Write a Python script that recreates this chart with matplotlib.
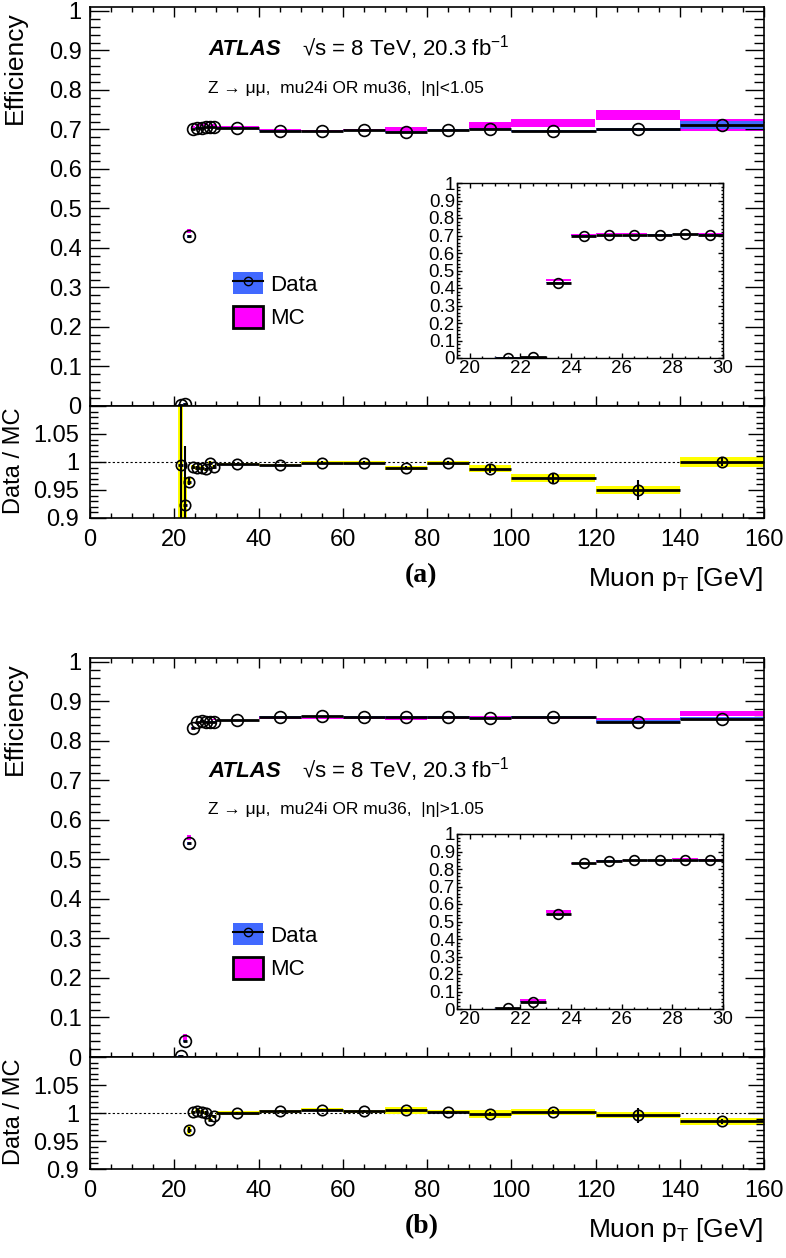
import matplotlib
matplotlib.use('Agg')
import matplotlib.pyplot as plt
import numpy as np
from matplotlib.ticker import MultipleLocator, FuncFormatter
from matplotlib.patches import Patch
from matplotlib.lines import Line2D

plt.rcParams['font.family'] = ['Liberation Sans', 'DejaVu Sans']
plt.rcParams['mathtext.fontset'] = 'custom'
plt.rcParams['mathtext.rm'] = 'Liberation Sans'
plt.rcParams['mathtext.it'] = 'Liberation Sans:italic'
plt.rcParams['mathtext.bf'] = 'Liberation Sans:bold'

W, H = 786, 1258
BLUE = '#4169ff'
MAGENTA = '#ff00ff'
YELLOW = '#ffff00'

# muon pT bin edges [GeV]
edges = np.array([21, 22, 23, 24, 25, 26, 27, 28, 29, 30, 40, 50, 60, 70, 80, 90, 100, 120, 140, 160])

# (a) |eta| < 1.05
eff_data_a = [0.002, 0.005, 0.430, 0.700, 0.703, 0.703, 0.705, 0.707, 0.705, 0.704, 0.697, 0.696, 0.698, 0.694, 0.698, 0.702, 0.696, 0.700, 0.712]
err_data_a = [0.002, 0.002, 0.004, 0.002, 0.002, 0.002, 0.002, 0.002, 0.002, 0.001, 0.001, 0.001, 0.001, 0.002, 0.002, 0.002, 0.003, 0.004, 0.010]
eff_mc_a = [0.002, 0.0054, 0.444, 0.706, 0.711, 0.711, 0.714, 0.7085, 0.711, 0.707, 0.700, 0.697, 0.699, 0.701, 0.699, 0.711, 0.717, 0.737, 0.712]
err_mc_a = [0.002, 0.002, 0.005, 0.002, 0.002, 0.002, 0.002, 0.002, 0.002, 0.002, 0.002, 0.002, 0.002, 0.004, 0.003, 0.007, 0.0095, 0.012, 0.015]
ratio_a = [0.994, 0.923, 0.965, 0.991, 0.989, 0.989, 0.987, 0.998, 0.991, 0.996, 0.995, 0.999, 0.999, 0.990, 0.998, 0.988, 0.971, 0.950, 1.000]
ratio_stat_a = [0.3, 0.105, 0.006, 0.003, 0.003, 0.003, 0.003, 0.003, 0.003, 0.002, 0.002, 0.002, 0.002, 0.003, 0.003, 0.007, 0.010, 0.017, 0.008]
ratio_sys_a = [0.3, 0.05, 0.006, 0.003, 0.003, 0.003, 0.003, 0.003, 0.003, 0.002, 0.002, 0.002, 0.002, 0.0035, 0.004, 0.006, 0.0076, 0.0067, 0.0082]

# (b) |eta| > 1.05
eff_data_b = [0.003, 0.041, 0.541, 0.834, 0.847, 0.851, 0.849, 0.849, 0.849, 0.852, 0.861, 0.862, 0.861, 0.860, 0.860, 0.858, 0.860, 0.849, 0.856]
err_data_b = [0.002, 0.003, 0.004, 0.002, 0.002, 0.002, 0.002, 0.002, 0.002, 0.001, 0.001, 0.001, 0.001, 0.002, 0.002, 0.002, 0.002, 0.003, 0.004]
eff_mc_b = [0.002, 0.050, 0.556, 0.833, 0.844, 0.849, 0.849, 0.859, 0.854, 0.852, 0.858, 0.857, 0.858, 0.856, 0.858, 0.860, 0.858, 0.853, 0.869]
err_mc_b = [0.002, 0.008, 0.007, 0.002, 0.002, 0.002, 0.002, 0.002, 0.002, 0.002, 0.002, 0.002, 0.003, 0.004, 0.002, 0.004, 0.003, 0.006, 0.007]
ratio_b = [np.nan, np.nan, 0.970, 1.001, 1.004, 1.002, 1.000, 0.988, 0.994, 1.000, 1.003, 1.006, 1.003, 1.005, 1.002, 0.998, 1.002, 0.996, 0.985]
ratio_stat_b = [np.nan, np.nan, 0.005, 0.003, 0.003, 0.003, 0.003, 0.003, 0.003, 0.002, 0.002, 0.002, 0.002, 0.003, 0.002, 0.004, 0.004, 0.0135, 0.004]
ratio_sys_b = [np.nan, np.nan, 0.008, 0.003, 0.003, 0.003, 0.003, 0.003, 0.003, 0.003, 0.003, 0.003, 0.003, 0.006, 0.0025, 0.0075, 0.005, 0.005, 0.006]

left = edges[:-1]
width = np.diff(edges)
cen = left + width / 2.0


def box(x0, y0, x1, y1):
    # pixel box (top-left origin) -> figure fraction rect
    return [x0 / W, 1 - y1 / H, (x1 - x0) / W, (y1 - y0) / H]


def fmt(v, pos):
    return '%g' % round(v, 3)


def draw_eff(ax, data, derr, mc, merr, ms):
    data, derr, mc, merr = map(np.asarray, (data, derr, mc, merr))
    ax.bar(left, 2 * merr, width, bottom=mc - merr, align='edge', color=MAGENTA, lw=0, zorder=1)
    ax.bar(left, 2 * derr, width, bottom=data - derr, align='edge', color=BLUE, lw=0, zorder=2)
    ax.hlines(data, left, left + width, color='k', lw=2, zorder=3)
    ax.plot(cen, data, 'o', ms=ms, mfc='none', mec='k', mew=1.2, zorder=4)


def draw_ratio(ax, r, rstat, rsys):
    r, rstat, rsys = map(np.asarray, (r, rstat, rsys))
    ok = ~np.isnan(r)
    ax.axhline(1, color='k', lw=0.8, ls=(0, (2, 2)), zorder=0.5)
    ax.bar(left[ok], 2 * rsys[ok], width[ok], bottom=r[ok] - rsys[ok], align='edge', color=YELLOW, lw=0, zorder=1)
    ax.hlines(r[ok], left[ok], left[ok] + width[ok], color='k', lw=2, zorder=2)
    ax.vlines(cen[ok], r[ok] - rstat[ok], r[ok] + rstat[ok], color='k', lw=1.5, zorder=2)
    ax.plot(cen[ok], r[ok], 'o', ms=7.5, mfc='none', mec='k', mew=1.2, zorder=3)


def style(ax, ylen, xlen, lw=1.2, size=17, pad=6):
    ax.tick_params(which='both', direction='in', top=True, right=True, width=1, labelsize=size, pad=pad)
    ax.yaxis.set_tick_params(which='major', length=ylen)
    ax.yaxis.set_tick_params(which='minor', length=ylen / 2)
    ax.xaxis.set_tick_params(which='major', length=xlen)
    ax.xaxis.set_tick_params(which='minor', length=xlen / 2)
    for s in ax.spines.values():
        s.set_linewidth(lw)


fig = plt.figure(figsize=(W / 100, H / 100), dpi=100)

panels = [
    ('a', 0, eff_data_a, err_data_a, eff_mc_a, err_mc_a, ratio_a, ratio_stat_a, ratio_sys_a,
     55, 93, 'Z → μμ,  mu24i OR mu36,  |η|<1.05'),
    ('b', 651, eff_data_b, err_data_b, eff_mc_b, err_mc_b, ratio_b, ratio_stat_b, ratio_sys_b,
     777, 814, 'Z → μμ,  mu24i OR mu36,  |η|>1.05'),
]

for tag, off, dd, de, mm, me, rr, rs, ry, y_atlas, y_z, zlabel in panels:
    ax = fig.add_axes(box(90, 7 + off, 764, 406 + off))
    rax = fig.add_axes(box(90, 406 + off, 764, 518 + off))

    draw_eff(ax, dd, de, mm, me, ms=8.5)
    ax.set_xlim(0, 160)
    ax.set_ylim(0, 1.01)
    ax.xaxis.set_major_locator(MultipleLocator(20))
    ax.xaxis.set_minor_locator(MultipleLocator(5))
    ax.yaxis.set_major_locator(MultipleLocator(0.1))
    ax.yaxis.set_minor_locator(MultipleLocator(0.02))
    ax.yaxis.set_major_formatter(FuncFormatter(fmt))
    style(ax, 14, 7.2)
    ax.tick_params(labelbottom=False)

    draw_ratio(rax, rr, rs, ry)
    rax.set_xlim(0, 160)
    rax.set_ylim(0.9, 1.1)
    rax.xaxis.set_major_locator(MultipleLocator(20))
    rax.xaxis.set_minor_locator(MultipleLocator(5))
    rax.yaxis.set_major_locator(MultipleLocator(0.05))
    rax.yaxis.set_minor_locator(MultipleLocator(0.01))
    rax.yaxis.set_major_formatter(FuncFormatter(lambda v, p: '' if v > 1.06 else fmt(v, p)))
    style(rax, 11.5, 7.2, pad=8)
    rax.tick_params(which='both', top=False)

    # inset zoom on the turn-on
    iax = fig.add_axes(box(457, 183 + off, 723, 358 + off))
    draw_eff(iax, dd, de, mm, me, ms=7)
    iax.set_xlim(19.5, 30)
    iax.set_ylim(0, 1)
    iax.xaxis.set_major_locator(MultipleLocator(2))
    iax.xaxis.set_minor_locator(MultipleLocator(0.5))
    iax.yaxis.set_major_locator(MultipleLocator(0.1))
    iax.yaxis.set_minor_locator(MultipleLocator(0.02))
    iax.yaxis.set_major_formatter(FuncFormatter(fmt))
    style(iax, 3.6, 3.6, lw=1.0, size=13.5, pad=1.5)

    # legend
    h_data = (Patch(facecolor=BLUE, edgecolor='none'),
              Line2D([], [], color='k', lw=1.5, marker='o', ms=6, mfc='none', mec='k'))
    h_mc = Patch(facecolor=MAGENTA, edgecolor='k', lw=2)
    ax.legend([h_data, h_mc], ['Data', 'MC'], loc='upper left',
              bbox_to_anchor=(233 / W, 1 - (272 + off) / H), bbox_transform=fig.transFigure,
              frameon=False, fontsize=16, handlelength=1.35, handleheight=1.15,
              handletextpad=0.3, labelspacing=0.45, borderpad=0, borderaxespad=0)

    # labels
    fig.text(208 / W, 1 - y_atlas / H, 'ATLAS', fontsize=16, fontweight='bold', fontstyle='italic', va='baseline')
    fig.text(302 / W, 1 - y_atlas / H, '√s = 8 TeV, 20.3 fb$^{-1}$', fontsize=16, va='baseline')
    fig.text(208 / W, 1 - y_z / H, zlabel, fontsize=12.5, va='baseline')

    fig.text(15 / W, 1 - (11 + off) / H, 'Efficiency', fontsize=19, rotation=90, ha='center', va='top')
    fig.text(14 / W, 1 - (461 + off) / H, 'Data / MC', fontsize=17, rotation=90, ha='center', va='center')
    fig.text(763 / W, 1 - (586 + off) / H, r'Muon p$_\mathregular{T}$ [GeV]', fontsize=19, ha='right', va='baseline')
    fig.text(405 / W, 1 - (582 + off) / H, '(%s)' % tag, fontsize=20, fontweight='bold',
             family='Liberation Serif', va='baseline')

fig.savefig('out.png', dpi=100)
